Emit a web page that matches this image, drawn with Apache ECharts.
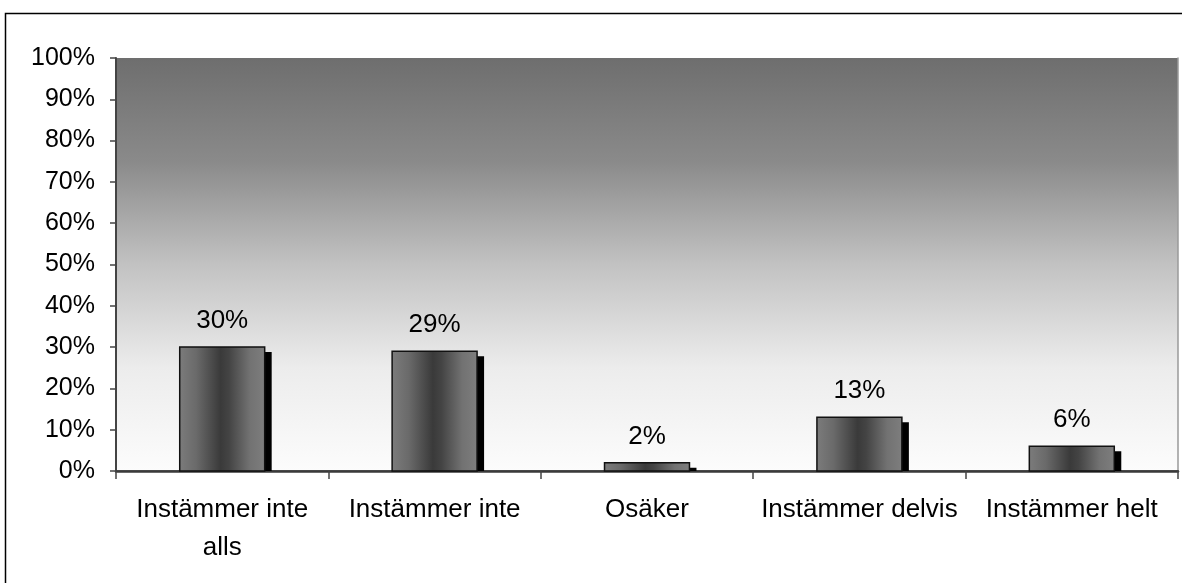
<!DOCTYPE html>
<html>
<head>
<meta charset="utf-8">
<script src="https://cdn.jsdelivr.net/npm/echarts@6/dist/echarts.min.js"></script>
<style>
  html, body { margin: 0; padding: 0; background: #fff; }
  #chart { width: 1182px; height: 583px; }
</style>
</head>
<body>
<div id="chart"></div>
<script>
// Answer categories and share of respondents (%)
const categories = ['Instämmer inte alls', 'Instämmer inte', 'Osäker', 'Instämmer delvis', 'Instämmer helt'];
const values = [30, 29, 2, 13, 6];
const yTicks = { min: 0, max: 100, interval: 10 };

const FONT = '"Liberation Sans", Arial, sans-serif';
const MAX_LINE_CHARS = 16;

// Word-wrap a category name into lines of at most MAX_LINE_CHARS characters
function wrapLabel(name) {
  const words = name.split(' ');
  const lines = [];
  let cur = '';
  words.forEach(w => {
    const next = cur ? cur + ' ' + w : w;
    if (next.length > MAX_LINE_CHARS && cur) {
      lines.push(cur);
      cur = w;
    } else {
      cur = next;
    }
  });
  if (cur) lines.push(cur);
  return lines.join('\n');
}

const chart = echarts.init(document.getElementById('chart'), null, { renderer: 'canvas' });

// Horizontal shading that gives each bar a rounded, cylinder-like look
const barFill = {
  type: 'linear', x: 0, y: 0, x2: 1, y2: 0,
  colorStops: [
    { offset: 0, color: '#7c7c7c' },
    { offset: 0.2, color: '#6a6a6a' },
    { offset: 0.48, color: '#3a3a3a' },
    { offset: 0.58, color: '#444444' },
    { offset: 0.82, color: '#727272' },
    { offset: 1, color: '#7e7e7e' }
  ]
};

function renderBar(params, api) {
  const idx = api.value(0);
  const val = api.value(1);
  const top = api.coord([idx, val]);
  const base = api.coord([idx, 0]);
  const bw = api.size([1, 0])[0] * 0.4;
  const x = top[0] - bw / 2;
  const h = base[1] - top[1];
  return {
    type: 'group',
    children: [
      { // drop shadow
        type: 'rect',
        shape: { x: x + 7, y: top[1] + 5, width: bw, height: Math.max(0, h - 5) },
        style: { fill: '#000' }
      },
      {
        type: 'rect',
        shape: { x: x, y: top[1], width: bw, height: h },
        style: { fill: barFill, stroke: '#111', lineWidth: 1.5 }
      },
      {
        type: 'text',
        style: {
          x: top[0], y: top[1] - 13,
          text: val + '%',
          fill: '#000',
          font: '26px ' + FONT,
          align: 'center',
          verticalAlign: 'bottom'
        }
      }
    ]
  };
}

chart.setOption({
  animation: false,
  backgroundColor: '#fff',
  graphic: [{
    type: 'rect',
    shape: { x: 5.5, y: 13.5, width: 1300, height: 700 },
    style: { fill: 'none', stroke: '#000', lineWidth: 1.5 },
    z: -1
  }],
  grid: {
    left: 116, right: 4, top: 58, bottom: 112,
    show: true,
    borderWidth: 0,
    backgroundColor: {
      type: 'linear', x: 0, y: 0, x2: 0, y2: 1,
      colorStops: [
        { offset: 0, color: '#6e6e6e' },
        { offset: 0.25, color: '#8a8a8a' },
        { offset: 0.5, color: '#c2c2c2' },
        { offset: 0.75, color: '#ececec' },
        { offset: 1, color: '#fcfcfc' }
      ]
    }
  },
  xAxis: [{
    type: 'category',
    data: categories,
    boundaryGap: true,
    axisLine: { lineStyle: { color: '#444', width: 1.5 } },
    axisTick: { show: true, length: 8, alignWithLabel: false, lineStyle: { color: '#444', width: 1.5 } },
    axisLabel: {
      interval: 0,
      margin: 20,
      formatter: wrapLabel,
      lineHeight: 38,
      fontSize: 26,
      fontFamily: FONT,
      color: '#000'
    }
  }, {
    type: 'category',
    data: categories,
    position: 'top',
    axisLine: { lineStyle: { color: '#3a3a3a', width: 2.5 } },
    axisTick: { show: false },
    axisLabel: { show: false }
  }],
  yAxis: [{
    type: 'value',
    min: yTicks.min, max: yTicks.max, interval: yTicks.interval,
    axisLine: { show: true, lineStyle: { color: '#444', width: 2 } },
    axisTick: { show: true, length: 6, lineStyle: { color: '#444', width: 1.5 } },
    splitLine: { show: false },
    axisLabel: {
      formatter: '{value}%',
      margin: 21,
      fontSize: 25,
      fontFamily: FONT,
      color: '#000'
    }
  }, {
    type: 'value',
    position: 'right',
    min: yTicks.min, max: yTicks.max, interval: yTicks.interval,
    axisLine: { show: true, lineStyle: { color: '#9a9a9a', width: 1.5 } },
    axisTick: { show: false },
    axisLabel: { show: false },
    splitLine: { show: false }
  }],
  series: [{
    type: 'custom',
    renderItem: renderBar,
    data: values.map((v, i) => [i, v]),
    clip: false
  }]
});
</script>
</body>
</html>
